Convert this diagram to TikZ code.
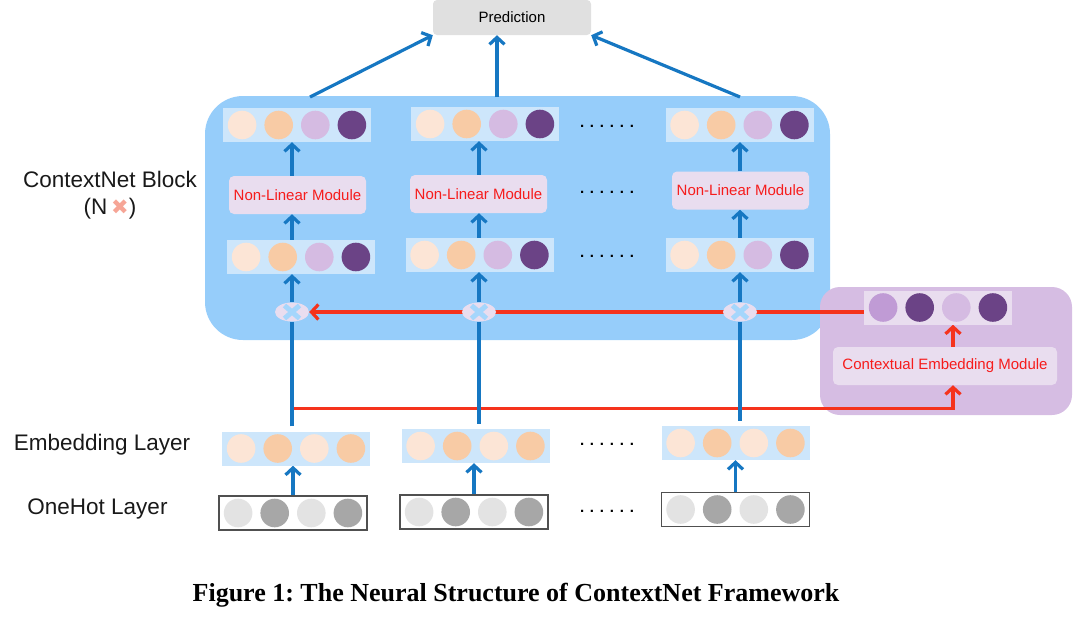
\documentclass[tikz,border=0pt]{standalone}
\usepackage{fontspec}
\setmainfont{Liberation Sans}
\newfontfamily\capfont{Liberation Serif}
\newfontfamily\djfont{DejaVu Sans}
\usetikzlibrary{arrows.meta,shapes.geometric,calc}
\pgfdeclarelayer{bg}\pgfdeclarelayer{conn}\pgfsetlayers{bg,conn,main}

\definecolor{blkblue}{HTML}{96CDFA}
\definecolor{vfill}{HTML}{CDE6FB}
\definecolor{lav}{HTML}{E9DDEF}
\definecolor{ctxpurple}{HTML}{D6BDE3}
\definecolor{predgray}{HTML}{E0E0E0}
\definecolor{pl}{HTML}{FCE5D6}
\definecolor{pk}{HTML}{F8CBA5}
\definecolor{li}{HTML}{D5BBE2}
\definecolor{dp}{HTML}{6B4386}
\definecolor{mp}{HTML}{C09BD5}
\definecolor{gl}{HTML}{E3E3E3}
\definecolor{gd}{HTML}{A7A7A7}
\definecolor{arrblue}{HTML}{1677C2}
\definecolor{arrred}{HTML}{F5331C}
\definecolor{modred}{HTML}{F61C1C}
\definecolor{crossblue}{HTML}{A5D6FC}
\definecolor{xsalmon}{HTML}{F6A596}
\definecolor{ohline}{HTML}{505050}

\tikzset{
  blockbox/.style={rectangle, rounded corners=38pt, fill=blkblue, minimum width=625pt, minimum height=244pt, inner sep=0pt},
  ctxbox/.style={rectangle, rounded corners=20pt, fill=ctxpurple, minimum width=252pt, minimum height=128pt, inner sep=0pt},
  predbox/.style={rectangle, rounded corners=4pt, fill=predgray, minimum width=158pt, minimum height=35pt, inner sep=0pt, font=\fontsize{15}{18}\selectfont},
  vbox/.style={rectangle, minimum width=148pt, minimum height=34pt, inner sep=0pt, fill=vfill},
  ohbox/.style={vbox, fill=white, draw=ohline, line width=1.3pt},
  nlbox/.style={rectangle, rounded corners=5pt, fill=lav, minimum width=137pt, minimum height=38pt, inner sep=0pt, text=modred, font=\fontsize{15}{18}\selectfont},
  mult/.style={ellipse, fill=lav, minimum width=34pt, minimum height=19pt, inner sep=0pt,
    path picture={\draw[crossblue, line width=5pt]
      ($(path picture bounding box.center)+(-7.5pt,-6.5pt)$) -- ($(path picture bounding box.center)+(7.5pt,6.5pt)$)
      ($(path picture bounding box.center)+(-7.5pt,6.5pt)$) -- ($(path picture bounding box.center)+(7.5pt,-6.5pt)$);}},
  lbl/.style={font=\fontsize{22.5}{27}\selectfont, text=black!90, align=center, inner sep=0pt},
  dotrow/.style={font=\bfseries\fontsize{15}{15}\selectfont, inner sep=0pt},
  bline/.style={draw=arrblue, line width=3.2pt},
  barr/.style={bline, -{Straight Barb[length=7pt,width=15pt]}},
  rline/.style={draw=arrred, line width=3.2pt},
  rarr/.style={rline, -{Straight Barb[length=7pt,width=15pt]}},
}

\newcommand\vrow[4][]{%
  \node[vbox,#1] (#2) at (#3) {};
  \foreach \cc [count=\i] in {#4}{\fill[\cc] ($(#2.center)+({(\i-2.5)*36.6},0)$) circle[radius=14.3pt];}}
\newcommand\sixdots{.\kern5.8pt.\kern5.8pt.\kern5.8pt.\kern5.8pt.\kern5.8pt.}

\begin{document}
\frenchspacing
\begin{tikzpicture}[x=1pt,y=-1pt]
\useasboundingbox (0,0) rectangle (1080,619);

\begin{pgfonlayer}{bg}
  \node[blockbox] (blk) at (517.5,218) {};
  \node[ctxbox] (ctx) at (946,351) {};
\end{pgfonlayer}

\node[predbox] (pred) at (512,17.5) {Prediction};

\node[lbl] (lblock) at (110,195.5) {ContextNet Block\\(N\,{\djfont\color{xsalmon}\fontsize{21}{21}\selectfont ✖})};
\node[lbl] (lemb) at (102,445) {Embedding Layer};
\node[lbl] (lone) at (97.5,509) {OneHot Layer};

\foreach \k/\tx/\ty/\bx/\by/\nx/\ny/\mx/\ex/\ey/\ox/\oy in
  {1/297/125/301/257/297.5/195/292/296/448.5/293/513,
   2/485/124/479.5/255/478.5/194/479/475.5/446/474/512,
   3/739.5/125/739.5/255/740.5/190.5/740/735.5/443/735.5/509.5}{
  \vrow{T\k}{\tx,\ty}{pl,pk,li,dp}
  \vrow{B\k}{\bx,\by}{pl,pk,li,dp}
  \node[nlbox] (N\k) at (\nx,\ny) {Non-Linear Module};
  \node[mult] (m\k) at (\mx,312) {};
  \vrow{E\k}{\ex,\ey}{pl,pk,pl,pk}
  \vrow[ohbox]{O\k}{\ox,\oy}{gl,gd,gl,gd}
}

\vrow[fill=lav]{cv}{938,307.5}{mp,dp,li,dp}
\node[nlbox, minimum width=224pt] (cm) at (945,366) {Contextual Embedding Module};

\node[dotrow] (d1) at (607,126) {\sixdots};
\node[dotrow] (d2) at (607,192) {\sixdots};
\node[dotrow] (d3) at (607,256) {\sixdots};
\node[dotrow] (d4) at (607,444) {\sixdots};
\node[dotrow] (d5) at (607,511) {\sixdots};

\coordinate (tp1) at (310,97);
\coordinate (tp2) at (497,97);
\coordinate (tp3) at (740,97);
\coordinate (j1) at (293,408.5);

\begin{pgfonlayer}{conn}
  % red connectors
  \draw[rarr] (cv.west |- m3) -- (m1.east);
  \draw[rarr] (j1) -| ([xshift=8pt]cm.south);
  \draw[rarr] ([xshift=8pt]cm.north) -- ([xshift=8pt]cm.north |- cv.south);
  % blue connectors
  \draw[barr] (tp1) -- (pred.south west);
  \draw[barr] (tp2) -- (tp2 |- pred.south);
  \draw[barr] (tp3) -- (pred.south east);
  \foreach \k in {1,2,3}{
    \draw[bline, shorten <=5pt] (m\k.south |- E\k.north) -- (m\k.south);
    \draw[barr] (m\k.north) -- (m\k.north |- B\k.south);
    \draw[barr] (B\k.north -| m\k) -- (N\k.south -| m\k);
    \draw[barr] (N\k.north -| m\k) -- (T\k.south -| m\k);
    \draw[barr] (O\k.north) -- (O\k.north |- E\k.south);
  }
\end{pgfonlayer}

\node[font=\capfont\bfseries\fontsize{26}{30}\selectfont, inner sep=0pt] (cap) at (516,595) {Figure 1: The Neural Structure of ContextNet Framework};
\end{tikzpicture}
\end{document}
